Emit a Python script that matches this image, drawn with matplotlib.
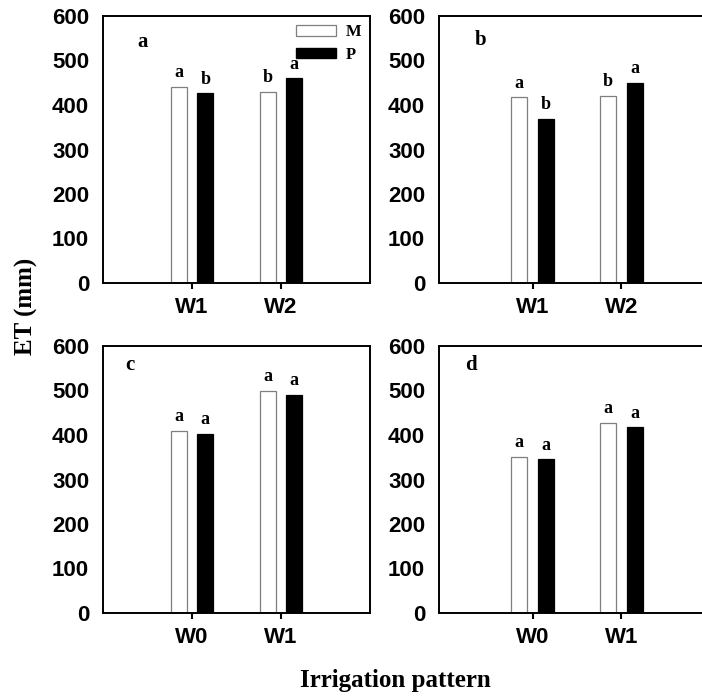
"""
ET (mm) of M and P under different irrigation patterns, four panels (a-d).
"""

import numpy as np
import matplotlib.pyplot as plt
from matplotlib.patches import Patch

# ---- data ----
groups_top = ["W1", "W2"]
groups_bottom = ["W0", "W1"]

et_m_a = [441, 429]
et_p_a = [426, 460]
et_m_b = [417, 421]
et_p_b = [368, 449]
et_m_c = [410, 499]
et_p_c = [403, 491]
et_m_d = [350, 427]
et_p_d = [345, 417]

sig_m_a = ["a", "b"]
sig_p_a = ["b", "a"]
sig_m_b = ["a", "b"]
sig_p_b = ["b", "a"]
sig_m_c = ["a", "a"]
sig_p_c = ["a", "a"]
sig_m_d = ["a", "a"]
sig_p_d = ["a", "a"]

SANS = "Liberation Sans"
SERIF = "Liberation Serif"
W, H = 702, 696


def px_axes(fig, left, top, right, bottom):
    """Add axes from pixel box (origin top-left)."""
    return fig.add_axes([left / W, 1 - bottom / H, (right - left) / W, (bottom - top) / H])


def draw_panel(ax, groups, m_vals, p_vals, m_sig, p_sig, tag, tag_xy, x0):
    x = np.arange(1, len(groups) + 1)
    width = 0.18
    off = 0.15
    ax.bar(x - off, m_vals, width, color="white", edgecolor="#7f7f7f", linewidth=0.9, label="M")
    ax.bar(x + off, p_vals, width, color="black", edgecolor="black", linewidth=0.9, label="P")

    for xi, v, s in zip(x - off, m_vals, m_sig):
        ax.text(xi, v + 22, s, ha="center", va="baseline", family=SERIF, fontweight="bold", fontsize=13)
    for xi, v, s in zip(x + off, p_vals, p_sig):
        ax.text(xi, v + 22, s, ha="center", va="baseline", family=SERIF, fontweight="bold", fontsize=13)

    ax.text(tag_xy[0], tag_xy[1], tag, ha="center", va="center", family=SERIF, fontweight="bold", fontsize=15)

    ax.set_xlim(x0, 3)
    ax.set_ylim(0, 600)
    ax.set_xticks(x)
    ax.set_xticklabels(groups)
    ax.set_yticks(np.arange(0, 601, 100))
    ax.tick_params(axis="x", direction="out", length=4, width=1.5, pad=6)
    ax.tick_params(axis="y", length=0, pad=10)
    for lab in ax.get_xticklabels() + ax.get_yticklabels():
        lab.set_family(SANS)
        lab.set_fontweight("bold")
        lab.set_fontsize(16)
    for sp in ax.spines.values():
        sp.set_linewidth(1.4)


fig = plt.figure(figsize=(W / 100, H / 100), dpi=100)

ax_a = px_axes(fig, 103, 16, 370, 283)
ax_b = px_axes(fig, 439, 16, 710, 283)
ax_c = px_axes(fig, 103, 346, 370, 613)
ax_d = px_axes(fig, 439, 346, 710, 613)

draw_panel(ax_a, groups_top, et_m_a, et_p_a, sig_m_a, sig_p_a, "a", (0.45, 541), 0)
draw_panel(ax_b, groups_top, et_m_b, et_p_b, sig_m_b, sig_p_b, "b", (0.41, 545), -0.055)
draw_panel(ax_c, groups_bottom, et_m_c, et_p_c, sig_m_c, sig_p_c, "c", (0.30, 557), 0)
draw_panel(ax_d, groups_bottom, et_m_d, et_p_d, sig_m_d, sig_p_d, "d", (0.30, 557), -0.055)

handles = [Patch(facecolor="white", edgecolor="#7f7f7f", linewidth=0.9),
           Patch(facecolor="black", edgecolor="black")]
ax_a.legend(handles, ["M", "P"], loc="upper right", frameon=False,
            prop={"family": SERIF, "weight": "bold", "size": 12},
            handlelength=2.4, handleheight=0.6, handletextpad=0.6,
            labelspacing=0.4, borderaxespad=0.1)

fig.text(26 / W, 1 - 306 / H, "ET (mm)", rotation=90, ha="center", va="center",
         family=SERIF, fontweight="bold", fontsize=18)
fig.text(395 / W, 1 - 681 / H, "Irrigation pattern", ha="center", va="center",
         family=SERIF, fontweight="bold", fontsize=18)

fig.savefig("out.png", dpi=100)
print("Saved out.png")
